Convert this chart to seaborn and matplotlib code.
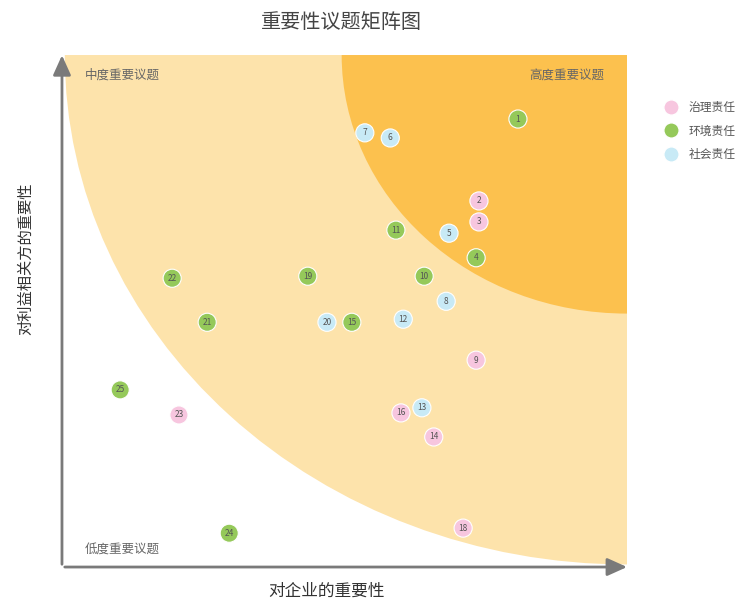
import pandas as pd
import matplotlib
matplotlib.use("Agg")
import matplotlib.pyplot as plt
from matplotlib.patches import Wedge
from matplotlib.lines import Line2D
import seaborn as sns

# 议题数据: 编号, 对企业的重要性, 对利益相关方的重要性, 类别
ids = [1, 2, 3, 4, 5, 6, 7, 8, 9, 10, 11, 12,
       13, 14, 15, 16, 18, 19, 20, 21, 22, 23, 24, 25]
x_vals = [8.07, 7.38, 7.38, 7.33, 6.85, 5.81, 5.36, 6.80, 7.33, 6.41, 5.91, 6.04,
          6.37, 6.58, 5.13, 6.00, 7.10, 4.35, 4.69, 2.57, 1.95, 2.07, 2.96, 1.03]
y_vals = [8.75, 7.15, 6.74, 6.04, 6.52, 8.38, 8.48, 5.19, 4.04, 5.68, 6.58, 4.84,
          3.11, 2.54, 4.78, 3.01, 0.76, 5.68, 4.78, 4.78, 5.64, 2.97, 0.66, 3.46]
groups = ["环境责任", "治理责任", "治理责任", "环境责任", "社会责任", "社会责任",
          "社会责任", "社会责任", "治理责任", "环境责任", "环境责任", "社会责任",
          "社会责任", "治理责任", "环境责任", "治理责任", "治理责任", "环境责任",
          "社会责任", "环境责任", "环境责任", "治理责任", "环境责任", "环境责任"]
categories = ["治理责任", "环境责任", "社会责任"]
colors = ["#f7c6df", "#95c95a", "#c8eaf6"]

df = pd.DataFrame({"id": ids, "x": x_vals, "y": y_vals, "group": groups})

sns.set_theme(style="white")
plt.rcParams["font.family"] = ["Noto Sans CJK SC", "DejaVu Sans"]

fig = plt.figure(figsize=(7.45, 6.02), dpi=100)
ax = fig.add_axes([0.0832, 0.0581, 0.7584, 0.8505])
ax.set_xlim(0, 10)
ax.set_ylim(0, 10)

# 背景区域: 以右上角为圆心的两个扇形
ax.add_patch(Wedge((10, 10), 9.95, 180, 270, facecolor="#fde3ab", edgecolor="none", zorder=0))
ax.add_patch(Wedge((10, 10), 5.05, 180, 270, facecolor="#fcc14e", edgecolor="none", zorder=0))

sns.scatterplot(data=df, x="x", y="y", hue="group", hue_order=categories,
                palette=colors, s=170, edgecolor="white", linewidth=0.8,
                legend=False, ax=ax, zorder=3)

for _, r in df.iterrows():
    ax.text(r["x"], r["y"], str(r["id"]), ha="center", va="center",
            fontsize=6, color="#555555", zorder=4)

for s in ax.spines.values():
    s.set_visible(False)
ax.set_xticks([])
ax.set_yticks([])
ax.set_xlabel("")
ax.set_ylabel("")

# 坐标轴箭头
ax.annotate("", xy=(10.05, 0), xytext=(0, 0), xycoords="data",
            arrowprops=dict(arrowstyle="-|>,head_length=1.0,head_width=0.45",
                            color="#7a7a7a", lw=2), annotation_clip=False)
ax.annotate("", xy=(0, 10.05), xytext=(0, 0), xycoords="data",
            arrowprops=dict(arrowstyle="-|>,head_length=1.0,head_width=0.45",
                            color="#7a7a7a", lw=2), annotation_clip=False)

ax.text(0.4, 9.6, "中度重要议题", fontsize=9, color="#666666", va="center")
ax.text(9.6, 9.6, "高度重要议题", fontsize=9, color="#666666", va="center", ha="right")
ax.text(0.4, 0.33, "低度重要议题", fontsize=9, color="#666666", va="center")

fig.text(0.458, 0.962, "重要性议题矩阵图", fontsize=14.5, color="#444444",
         ha="center", va="center")
fig.text(0.438, 0.018, "对企业的重要性", fontsize=12, color="#333333",
         ha="center", va="center")
fig.text(0.034, 0.571, "对利益相关方的重要性", fontsize=11, color="#333333",
         ha="center", va="center", rotation=90)

handles = [Line2D([0], [0], marker="o", linestyle="", markersize=11,
                  markerfacecolor=c, markeredgecolor="white") for c in colors]
fig.legend(handles, categories, loc="upper left", bbox_to_anchor=(0.87, 0.85),
           frameon=False, fontsize=8.5, labelcolor="#555555",
           handletextpad=0.5, labelspacing=0.9)

fig.savefig("out.png", dpi=100)
